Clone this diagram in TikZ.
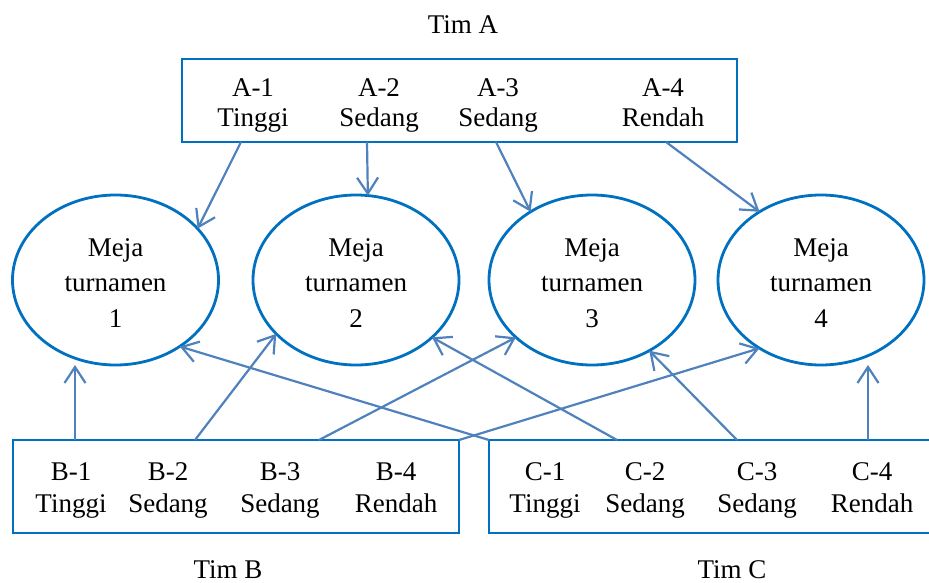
\documentclass[tikz,border=0pt]{standalone}
\usepackage{fontspec}
\setmainfont{Liberation Serif}
\usetikzlibrary{shapes.geometric,arrows.meta}
\definecolor{frameblue}{RGB}{0,112,192}
\definecolor{linkblue}{RGB}{79,129,189}
\begin{document}
\begin{tikzpicture}[x=1pt,y=-1pt,
  every node/.style={font=\fontsize{27}{32}\selectfont, text=black},
  table/.style={ellipse, draw=frameblue, line width=2.8pt,
    minimum width=206pt, minimum height=170pt, inner sep=0pt, outer sep=0pt,
    align=center, font=\fontsize{27}{35.5}\selectfont,
    text height=94.9pt, text depth=0pt},
  teambox/.style={draw=frameblue, line width=2.8pt, inner sep=0pt, outer sep=0pt},
  member/.style={align=center, inner sep=0pt, text height=49.9pt, text depth=5.9pt},
  topmember/.style={member, font=\fontsize{27}{30}\selectfont, text height=47.9pt},
  title/.style={anchor=base, inner sep=0pt},
  link/.style={draw=linkblue, line width=2.2pt,
    -{Straight Barb[length=16pt,width=21pt]}},
]
\useasboundingbox (0,0) rectangle (929,583);

% team titles
\node[title] (tA) at (463,34) {Tim A};
\node[title] (tB) at (228,578) {Tim B};
\node[title] (tC) at (732,578) {Tim C};

% team boxes
\node[teambox, minimum width=555pt, minimum height=83pt] (boxA) at (459.5,100.5) {};
\node[teambox, minimum width=446pt, minimum height=93pt] (boxB) at (236,486.5) {};
\node[teambox, minimum width=446pt, minimum height=93pt] (boxC) at (712,486.5) {};

% members of team A
\node[topmember] (A1) at (253,105.5) {A-1\\Tinggi};
\node[topmember] (A2) at (379,105.5) {A-2\\Sedang};
\node[topmember] (A3) at (498,105.5) {A-3\\Sedang};
\node[topmember] (A4) at (663,105.5) {A-4\\Rendah};

% members of team B
\node[member] (B1) at (71,490) {B-1\\Tinggi};
\node[member] (B2) at (168,490) {B-2\\Sedang};
\node[member] (B3) at (280,490) {B-3\\Sedang};
\node[member] (B4) at (396,490) {B-4\\Rendah};

% members of team C
\node[member] (C1) at (545,490) {C-1\\Tinggi};
\node[member] (C2) at (645,490) {C-2\\Sedang};
\node[member] (C3) at (757,490) {C-3\\Sedang};
\node[member] (C4) at (872,490) {C-4\\Rendah};

% tournament tables
\node[table] (e1) at (115.5,280) {Meja\\turnamen\\1};
\node[table] (e2) at (356,280) {Meja\\turnamen\\2};
\node[table] (e3) at (592,280) {Meja\\turnamen\\3};
\node[table] (e4) at (821,280) {Meja\\turnamen\\4};

% departure points on the box edges
\coordinate (a1s) at (241,142);
\coordinate (a2s) at (367,142);
\coordinate (a3s) at (496,142);
\coordinate (a4s) at (666,142);
\coordinate (b1s) at (75,440);
\coordinate (b2s) at (195,440);
\coordinate (b3s) at (319,440);
\coordinate (b4s) at (boxB.north east);
\coordinate (c1s) at (boxC.north west);
\coordinate (c2s) at (617,440);
\coordinate (c3s) at (737,440);
\coordinate (c4s) at (868,440);

% team A to the tables
\draw[link] (a1s) -- (e1.32);
\draw[link] (a2s) -- (e2.82);
\draw[link] (a3s) -- (e3.132);
\draw[link] (a4s) -- (e4.132);

% team B to the tables
\draw[link] (b1s) -- (b1s |- e1.south);
\draw[link] (b2s) -- (e2.214);
\draw[link] (b3s) -- (e3.217);
\draw[link] (b4s) -- (e4.228);

% team C to the tables
\draw[link] (c1s) -- (e1.-46);
\draw[link] (c2s) -- (e2.-37);
\draw[link] (c3s) -- (e3.-51);
\draw[link] (c4s) -- (c4s |- e4.south);
\end{tikzpicture}
\end{document}
